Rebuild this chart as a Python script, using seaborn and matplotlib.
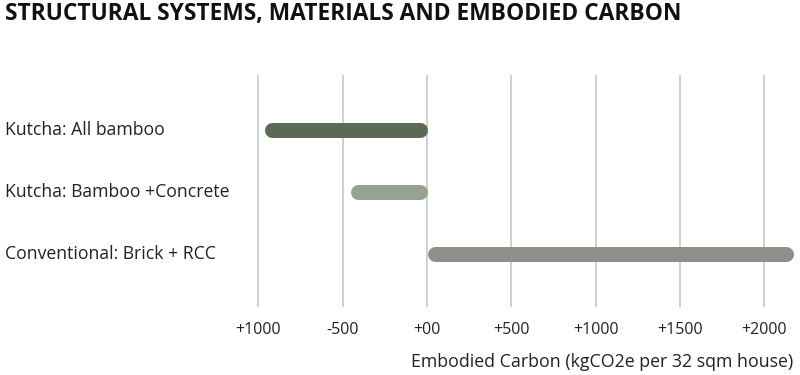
import pandas as pd
import seaborn as sns
import matplotlib.pyplot as plt

# Data
systems = ["Kutcha: All bamboo", "Kutcha: Bamboo +Concrete", "Conventional: Brick + RCC"]
start_values = [0, 0, 0]
end_values = [-965, -455, 2175]
colors = ["#5b6a53", "#97a291", "#8d8f88"]
tick_values = [-1000, -500, 0, 500, 1000, 1500, 2000]
tick_labels = ["+1000", "-500", "+00", "+500", "+1000", "+1500", "+2000"]

sns.set_style("white")
plt.rcParams['font.family'] = ['Open Sans', 'DejaVu Sans']

fig = plt.figure(figsize=(8, 3.75), dpi=100)
ax = fig.add_axes([0.3125, 0.1813, 0.685, 0.6187])
ax.set_xlim(-1050, 2200)
ax.set_ylim(2.86, -0.89)

# Round-capped bars: inset the line ends so the caps end at the data values
bar_px = 15
units_per_px = (ax.get_xlim()[1] - ax.get_xlim()[0]) / (0.685 * 800)
inset = bar_px / 2 * units_per_px

rows = []
for i, (name, s, e) in enumerate(zip(systems, start_values, end_values)):
    lo, hi = min(s, e) + inset, max(s, e) - inset
    rows.append({"system": name, "pos": i, "value": lo})
    rows.append({"system": name, "pos": i, "value": hi})
df = pd.DataFrame(rows)

sns.lineplot(
    data=df, x="value", y="pos", hue="system",
    palette=dict(zip(systems, colors)), estimator=None, sort=True,
    linewidth=bar_px * 72 / 100, solid_capstyle="round",
    legend=False, ax=ax, zorder=3
)

# Vertical grid lines
for t in tick_values:
    ax.axvline(t, color="#c4c4c4", linewidth=1.1, zorder=1)

ax.set_xticks(tick_values)
ax.set_xticklabels(tick_labels, fontsize=11.5, color="#222222")
ax.set_yticks([])
ax.tick_params(axis="x", length=0, pad=11)
sns.despine(ax=ax, left=True, bottom=True)
ax.set_ylabel("")
ax.set_xlabel("")

# Category labels at the left edge of the figure
for i, name in enumerate(systems):
    ax.annotate(name, xy=(0, i), xycoords=("figure fraction", "data"),
                xytext=(5, 0), textcoords="offset pixels",
                ha="left", va="center", fontsize=12.7, color="#222222")

fig.text(793 / 800, 1 - 362 / 375, "Embodied Carbon (kgCO2e per 32 sqm house)",
         ha="right", va="center", fontsize=12.8, color="#222222")
fig.text(5 / 800, 1 - 20 / 375, "STRUCTURAL SYSTEMS, MATERIALS AND EMBODIED CARBON",
         ha="left", va="baseline", fontsize=16.4, fontweight="bold", color="#111111")

fig.savefig("out.png", dpi=100)
